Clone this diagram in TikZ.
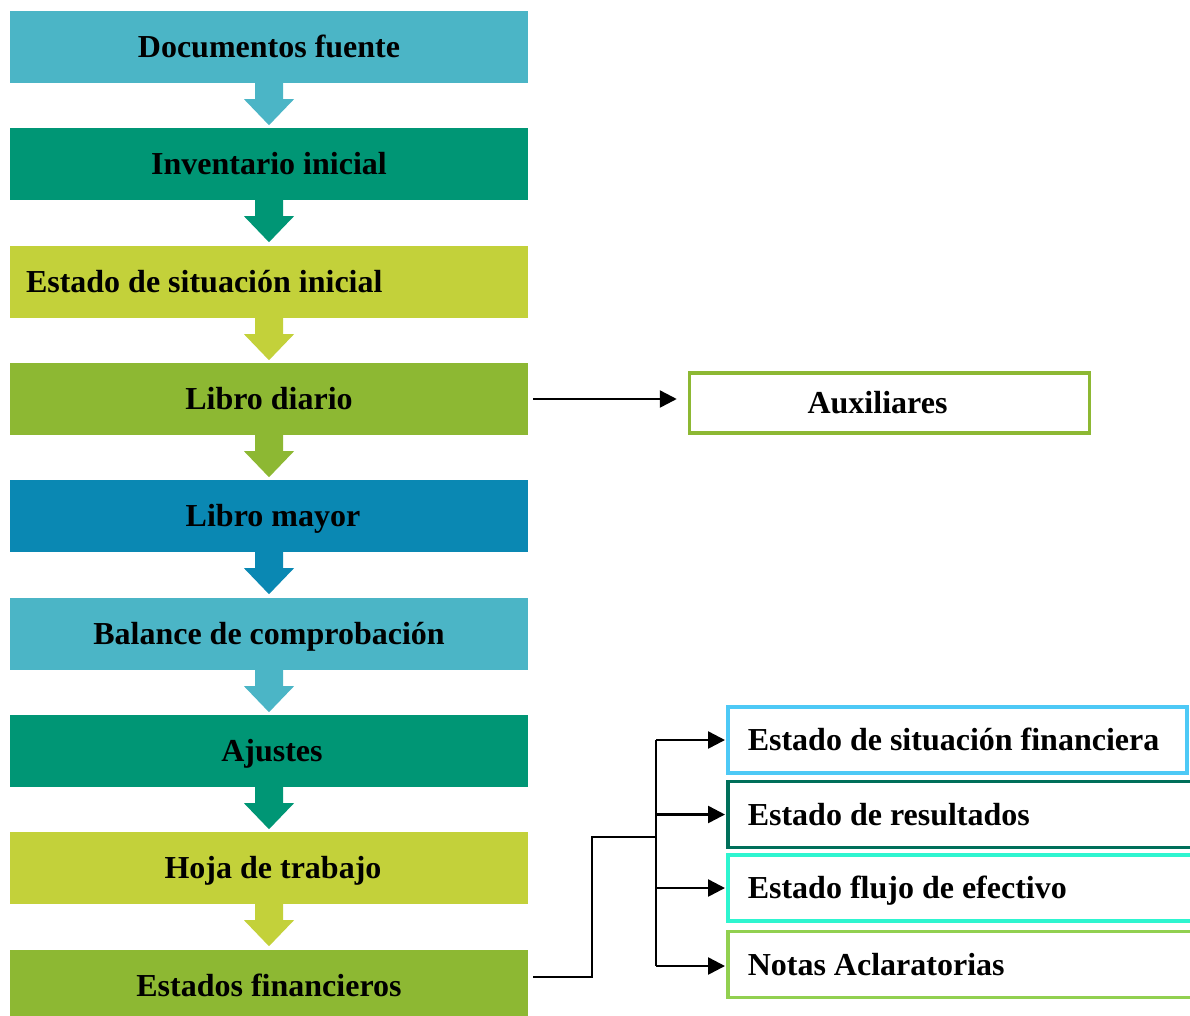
\documentclass[tikz,border=0pt]{standalone}
\usepackage{fontspec}
\setmainfont{Liberation Serif}
\usetikzlibrary{arrows.meta,calc}
\definecolor{cA}{HTML}{4BB5C6}
\definecolor{cB}{HTML}{009675}
\definecolor{cC}{HTML}{C3D13A}
\definecolor{cD}{HTML}{8DB833}
\definecolor{cE}{HTML}{0A88B3}
\definecolor{rA}{HTML}{4DC9F6}
\definecolor{rB}{HTML}{006F5A}
\definecolor{rC}{HTML}{2EF5D0}
\definecolor{rD}{HTML}{92D050}
\tikzset{
  lbox/.style={minimum width=518pt, minimum height=72pt, inner sep=0pt, text height=21pt, text depth=0pt, font=\fontsize{32}{38}\selectfont\bfseries, text=black},
  rbox/.style={draw=#1, line width=3.5pt, fill=white, minimum height=66pt, inner xsep=20pt, inner ysep=0pt, text height=21pt, text depth=0pt, anchor=west, font=\fontsize{32}{38}\selectfont\bfseries},
  conn/.style={line width=2.5pt, black},
  tip/.style={-{Triangle[length=17pt,width=17pt]}},
}
\newcommand{\downarrowshape}[2]{%
  \fill[#2] ([xshift=-14pt]#1.south) -- ++(0,16) -- ++(-11,0) -- ++(25,26) -- ++(25,-26) -- ++(-11,0) -- ++(0,-16) -- cycle;}
\begin{document}
\begin{tikzpicture}[x=1pt,y=-1pt]
\useasboundingbox (0,0) rectangle (1190,1015);
\node[lbox, fill=cA] (b1) at (269,47) {Documentos fuente};
\node[lbox, fill=cB] (b2) at (269,164) {Inventario inicial};
\node[lbox, fill=cC] (b3) at (269,282) {\makebox[486pt][l]{Estado de situación inicial}};
\node[lbox, fill=cD] (b4) at (269,399) {Libro diario};
\node[lbox, fill=cE] (b5) at (269,516) {\kern8pt Libro mayor};
\node[lbox, fill=cA] (b6) at (269,634) {Balance de comprobación};
\node[lbox, fill=cB] (b7) at (269,751) {\kern6pt Ajustes};
\node[lbox, fill=cC] (b8) at (269,868) {\kern8pt Hoja de trabajo};
\node[lbox, fill=cD] (b9) at (269,986) {Estados financieros};
\downarrowshape{b1}{cA}
\downarrowshape{b2}{cB}
\downarrowshape{b3}{cC}
\downarrowshape{b4}{cD}
\downarrowshape{b5}{cE}
\downarrowshape{b6}{cA}
\downarrowshape{b7}{cB}
\downarrowshape{b8}{cC}
\node[draw=cD, line width=3.5pt, fill=white, minimum width=400pt, minimum height=60pt, inner sep=0pt, text height=21pt, text depth=0pt, font=\fontsize{32}{38}\selectfont\bfseries] (aux) at (889.5,403) {Auxiliares\kern24pt};
\node[rbox=rA] (ra) at (726,740) {\makebox[419pt][l]{Estado de situación financiera}};
\node[rbox=rB] (rb) at (726,814.5) {\makebox[440pt][l]{Estado de resultados}};
\node[rbox=rC] (rc) at (726,888) {\makebox[440pt][l]{Estado flujo de efectivo}};
\node[rbox=rD] (rd) at (726,964.5) {\makebox[440pt][l]{Notas Aclaratorias}};
\draw[conn, tip] ([xshift=5pt]b4.east) -- ([xshift=-11pt]aux.west |- b4.east);
\coordinate (bt) at (656,740);
\coordinate (bb) at (656,966);
\coordinate (bj) at (656,837);
\draw[conn] ([shift={(5,-9)}]b9.east) -- (592,977) |- (bj);
\draw[conn] (bt) -- (bb);
\draw[conn, tip] (bt) -- ([xshift=-1pt]ra.west);
\draw[conn, tip] (bt |- rb.west) -- ([xshift=-1pt]rb.west);
\draw[conn, tip] (bt |- rc.west) -- ([xshift=-1pt]rc.west);
\draw[conn, tip] (bb) -- ([xshift=-1pt]rd.west |- bb);
\end{tikzpicture}
\end{document}
